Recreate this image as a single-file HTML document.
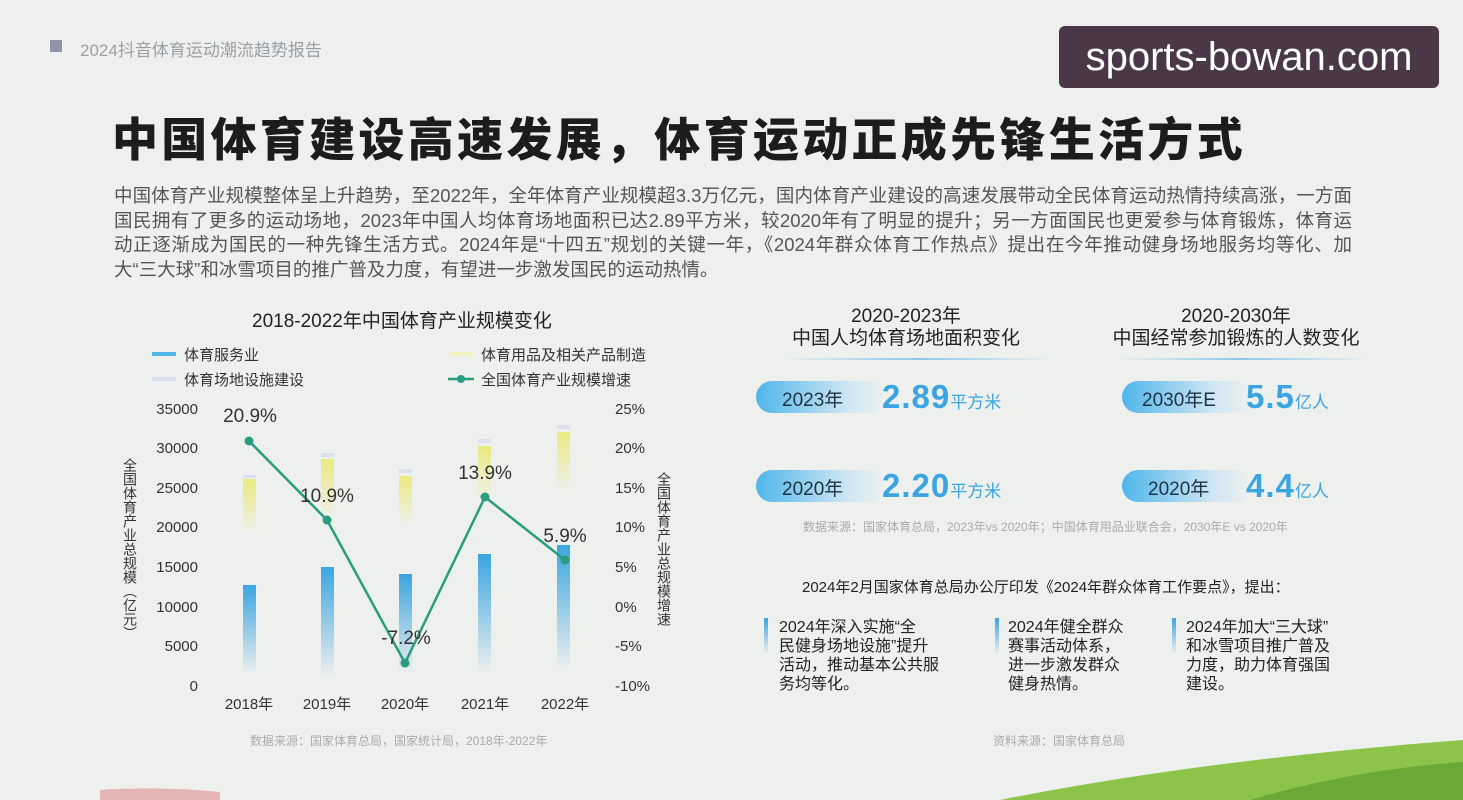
<!DOCTYPE html>
<html><head><meta charset="utf-8"><style>
*{margin:0;padding:0;box-sizing:border-box}
body{width:1463px;height:800px;overflow:hidden;background:#eef0ee;font-family:"Liberation Sans","Noto Sans CJK SC",sans-serif;position:relative;color:#333}
.a{position:absolute;white-space:nowrap}
.pill{position:absolute;width:130px;height:32px;border-radius:16px;background:linear-gradient(90deg,#4fb6ea,#cfe6f3 70%,rgba(238,240,238,0));}
.pill span{position:absolute;left:26px;top:4px;font-size:19px;color:#1f3347}
.big{position:absolute;font-size:33px;font-weight:bold;color:#3aa5e0;letter-spacing:1px}
.big small{font-size:17px;font-weight:normal;letter-spacing:0}
.note{font-size:16px;color:#222;line-height:19px;white-space:nowrap;position:absolute}
.bl{position:absolute;width:4px;height:36px;background:linear-gradient(#3aa5e0,rgba(58,165,224,0))}
.vt{position:absolute;writing-mode:vertical-rl;font-size:14px;color:#333;line-height:16px}
.pl{width:1238px;text-align:justify;text-align-last:justify;white-space:nowrap;height:24.5px}
</style></head><body>
<div class="a" style="left:50px;top:40px;width:12px;height:12px;background:#8f94a8"></div>
<div class="a" style="left:80px;top:36px;font-size:17px;color:#9aa0a8">2024抖音体育运动潮流趋势报告</div>
<div class="a" style="left:1059px;top:26px;width:380px;height:62px;background:#4a3848;border-radius:6px;color:#fff;font-size:40px;line-height:62px;text-align:center">sports-bowan.com</div>
<div class="a" style="left:112px;top:104px;font-size:46px;font-weight:900;color:#1c1c1c;letter-spacing:3.3px">中国体育建设高速发展，体育运动正成先锋生活方式</div>
<div class="a" style="left:114px;top:184px;font-size:18.5px;line-height:24.5px;color:#555">
<div class="pl">中国体育产业规模整体呈上升趋势，至2022年，全年体育产业规模超3.3万亿元，国内体育产业建设的高速发展带动全民体育运动热情持续高涨，一方面</div>
<div class="pl">国民拥有了更多的运动场地，2023年中国人均体育场地面积已达2.89平方米，较2020年有了明显的提升；另一方面国民也更爱参与体育锻炼，体育运</div>
<div class="pl">动正逐渐成为国民的一种先锋生活方式。2024年是“十四五”规划的关键一年，《2024年群众体育工作热点》提出在今年推动健身场地服务均等化、加</div>
<div>大“三大球”和冰雪项目的推广普及力度，有望进一步激发国民的运动热情。</div>
</div>

<div class="a" style="left:252px;top:306px;font-size:19px;color:#222">2018-2022年中国体育产业规模变化</div>
<div class="a" style="left:152px;top:352px;width:24px;height:4px;background:#4fb6ea"></div>
<div class="a" style="left:184px;top:344px;font-size:15px;color:#333">体育服务业</div>
<div class="a" style="left:152px;top:377px;width:24px;height:4px;background:#dde0ee"></div>
<div class="a" style="left:184px;top:369px;font-size:15px;color:#333">体育场地设施建设</div>
<div class="a" style="left:450px;top:352px;width:24px;height:4px;background:#f1f2c0"></div>
<div class="a" style="left:481px;top:344px;font-size:15px;color:#333">体育用品及相关产品制造</div>
<div class="a" style="left:481px;top:369px;font-size:15px;color:#333">全国体育产业规模增速</div>
<div class="vt" style="left:122px;top:458px">全国体育产业总规模（亿元）</div>
<div class="vt" style="left:656px;top:472px">全国体育产业总规模增速</div>

<svg class="a" style="left:0;top:0" width="1463" height="800">
<defs>
<linearGradient id="gb" x1="0" y1="0" x2="0" y2="1"><stop offset="0" stop-color="#3aa5e0"/><stop offset="1" stop-color="#3aa5e0" stop-opacity="0"/></linearGradient>
<linearGradient id="gy" x1="0" y1="0" x2="0" y2="1"><stop offset="0" stop-color="#eaea80"/><stop offset="1" stop-color="#eaea80" stop-opacity="0"/></linearGradient>
<linearGradient id="ln" x1="0" y1="0" x2="1" y2="0"><stop offset="0" stop-color="#8cc8e8" stop-opacity="0"/><stop offset=".5" stop-color="#8cc8e8"/><stop offset="1" stop-color="#8cc8e8" stop-opacity="0"/></linearGradient>
</defs>
<line x1="448" y1="379" x2="474" y2="379" stroke="#2a9d80" stroke-width="2.5"/><circle cx="461" cy="379" r="4" fill="#2a9d80"/>
<g font-family="Liberation Sans" font-size="15" fill="#333" text-anchor="end">
<text x="198" y="414">35000</text><text x="198" y="453">30000</text><text x="198" y="493">25000</text><text x="198" y="532">20000</text><text x="198" y="572">15000</text><text x="198" y="612">10000</text><text x="198" y="651">5000</text><text x="198" y="691">0</text>
</g>
<g font-family="Liberation Sans" font-size="15" fill="#333">
<text x="615" y="414">25%</text><text x="615" y="453">20%</text><text x="615" y="493">15%</text><text x="615" y="532">10%</text><text x="615" y="572">5%</text><text x="615" y="612">0%</text><text x="615" y="651">-5%</text><text x="615" y="691">-10%</text>
</g>
<g font-family="Liberation Sans,Noto Sans CJK SC" font-size="15" fill="#333" text-anchor="middle">
<text x="249" y="709">2018年</text><text x="327" y="709">2019年</text><text x="405" y="709">2020年</text><text x="485" y="709">2021年</text><text x="565" y="709">2022年</text>
</g>
<g>
<rect x="243" y="585" width="13" height="90" fill="url(#gb)"/>
<rect x="321" y="567" width="13" height="110" fill="url(#gb)"/>
<rect x="399" y="574" width="13" height="100" fill="url(#gb)"/>
<rect x="478" y="554" width="13" height="120" fill="url(#gb)"/>
<rect x="557" y="545" width="13" height="125" fill="url(#gb)"/>
<rect x="243" y="479" width="13" height="55" fill="url(#gy)"/>
<rect x="321" y="459" width="13" height="60" fill="url(#gy)"/>
<rect x="399" y="476" width="13" height="50" fill="url(#gy)"/>
<rect x="478" y="446" width="13" height="55" fill="url(#gy)"/>
<rect x="557" y="432" width="13" height="60" fill="url(#gy)"/>
<rect x="243" y="475" width="13" height="3" fill="#dcdfee"/>
<rect x="321" y="453" width="13" height="4" fill="#dcdfee"/>
<rect x="399" y="469" width="13" height="4" fill="#dcdfee"/>
<rect x="478" y="439" width="13" height="4" fill="#dcdfee"/>
<rect x="557" y="425" width="13" height="4" fill="#dcdfee"/>
</g>
<polyline points="249,441 327,520 405,663 485,497 565,560" fill="none" stroke="#2a9d80" stroke-width="2.5"/>
<g fill="#2a9d80"><circle cx="249" cy="441" r="4.5"/><circle cx="327" cy="520" r="4.5"/><circle cx="405" cy="663" r="4.5"/><circle cx="485" cy="497" r="4.5"/><circle cx="565" cy="560" r="4.5"/></g>
<g font-family="Liberation Sans" font-size="19" fill="#333" text-anchor="middle">
<text x="250" y="422">20.9%</text><text x="327" y="502">10.9%</text><text x="406" y="644">-7.2%</text><text x="485" y="479">13.9%</text><text x="565" y="542">5.9%</text>
</g>
<rect x="780" y="358" width="275" height="2" fill="url(#ln)"/>
<rect x="1115" y="358" width="255" height="2" fill="url(#ln)"/>
<path d="M1000 800 Q1200 760 1463 740 L1463 800Z" fill="#8cc44a"/>
<path d="M1250 800 Q1350 770 1463 762 L1463 800Z" fill="#6aa838"/>
<path d="M100 790 Q160 786 220 792 L220 800 L100 800Z" fill="#e5b5b5"/>
</svg>

<div class="a" style="left:250px;top:732px;font-size:12px;color:#aaa">数据来源：国家体育总局，国家统计局，2018年-2022年</div>

<div class="a" style="left:780px;top:306px;width:252px;text-align:center;font-size:19px;line-height:22px;color:#222">2020-2023年<br>中国人均体育场地面积变化</div>
<div class="a" style="left:1110px;top:306px;width:252px;text-align:center;font-size:19px;line-height:22px;color:#222">2020-2030年<br>中国经常参加锻炼的人数变化</div>
<div class="pill" style="left:756px;top:381px"><span>2023年</span></div>
<div class="pill" style="left:756px;top:470px"><span>2020年</span></div>
<div class="pill" style="left:1122px;top:381px"><span style="left:20px">2030年E</span></div>
<div class="pill" style="left:1122px;top:470px"><span>2020年</span></div>
<div class="big" style="left:882px;top:378px">2.89<small>平方米</small></div>
<div class="big" style="left:882px;top:467px">2.20<small>平方米</small></div>
<div class="big" style="left:1246px;top:378px">5.5<small>亿人</small></div>
<div class="big" style="left:1246px;top:467px">4.4<small>亿人</small></div>
<div class="a" style="left:803px;top:518px;font-size:12px;color:#aaa">数据来源：国家体育总局，2023年vs 2020年；中国体育用品业联合会，2030年E vs 2020年</div>
<div class="a" style="left:802px;top:576px;font-size:15px;color:#222">2024年2月国家体育总局办公厅印发《2024年群众体育工作要点》，提出：</div>
<div class="bl" style="left:764px;top:618px"></div>
<div class="bl" style="left:995px;top:618px"></div>
<div class="bl" style="left:1172px;top:618px"></div>
<div class="note" style="left:779px;top:618px">2024年深入实施“全<br>民健身场地设施”提升<br>活动，推动基本公共服<br>务均等化。</div>
<div class="note" style="left:1008px;top:618px">2024年健全群众<br>赛事活动体系，<br>进一步激发群众<br>健身热情。</div>
<div class="note" style="left:1186px;top:618px">2024年加大“三大球”<br>和冰雪项目推广普及<br>力度，助力体育强国<br>建设。</div>
<div class="a" style="left:993px;top:732px;font-size:12px;color:#aaa">资料来源：国家体育总局</div>
</body></html>
